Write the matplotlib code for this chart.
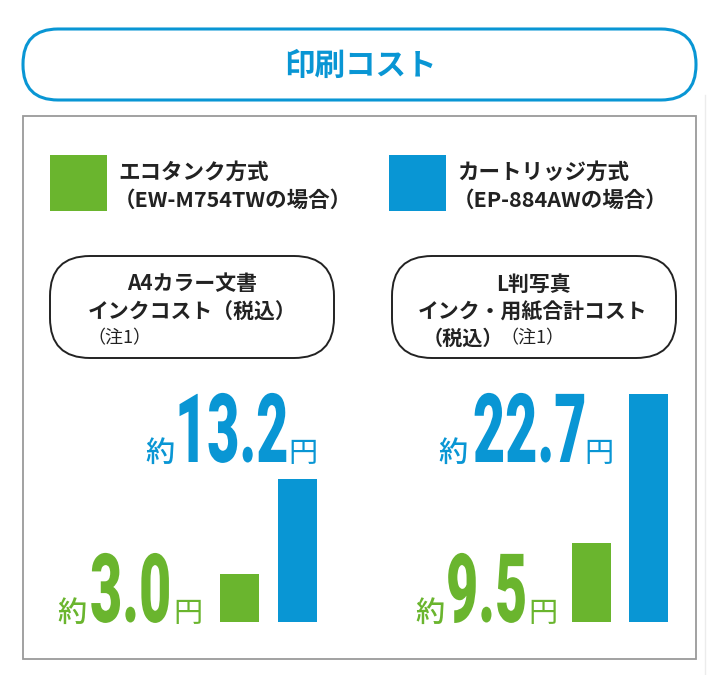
import matplotlib
matplotlib.use("Agg")
import matplotlib.pyplot as plt
import numpy as np
from matplotlib.patches import FancyBboxPatch, Rectangle
from matplotlib.patheffects import AbstractPathEffect
from matplotlib.transforms import Affine2D

plt.rcParams['font.family'] = ['Noto Sans CJK JP', 'DejaVu Sans']

GREEN = '#6ab52e'
BLUE = '#0996d4'
INK = '#222222'

# data
title = '印刷コスト'
series_names = ['エコタンク方式', 'カートリッジ方式']
series_models = ['（EW-M754TWの場合）', '（EP-884AWの場合）']
panel_heads = ['A4カラー文書', 'L判写真']
panel_subs = ['インクコスト（税込）', 'インク・用紙合計コスト']
panel_tax = ['', '（税込）']
panel_note = '（注1）'
ecotank_cost = [3.0, 9.5]
cartridge_cost = [13.2, 22.7]

W, H = 720, 675


class Squeeze(AbstractPathEffect):
    """Draw text condensed horizontally (the big numbers use a condensed face)."""
    def __init__(self, sx):
        super().__init__()
        self.sx = sx

    def draw_path(self, renderer, gc, tpath, affine, rgbFace=None):
        ox, oy = affine.transform_point((0, 0))
        sq = Affine2D().translate(-ox, -oy).scale(self.sx, 1).translate(ox, oy)
        renderer.draw_path(gc, tpath, affine + sq, rgbFace)


fig = plt.figure(figsize=(W / 100, H / 100), dpi=100)
bg = fig.add_axes([0, 0, 1, 1])
bg.set_xlim(0, W)
bg.set_ylim(H, 0)
bg.axis('off')

# title pill
bg.add_patch(FancyBboxPatch((23, 29), 673, 71, boxstyle='round,pad=0,rounding_size=35',
                            fc='white', ec=BLUE, lw=2.2))
bg.text(360, 66, title, color=BLUE, fontsize=22, fontweight='bold', ha='center', va='center')

# panel frame
bg.add_patch(Rectangle((23, 116), 673, 543, fc='none', ec='#9a9a9a', lw=1.3))
bg.plot([705, 705], [95, 675], color='#ececec', lw=1)

# legend
for x0, col, name, model in [(50, GREEN, series_names[0], series_models[0]),
                             (389, BLUE, series_names[1], series_models[1])]:
    bg.add_patch(Rectangle((x0, 155), 57, 56, fc=col, ec='none'))
    bg.text(x0 + 68, 172, name, color=INK, fontsize=15.5, fontweight='bold', va='center')
    bg.text(x0 + 64, 200, model, color=INK, fontsize=15.5, fontweight='bold', va='center')

# rounded caption boxes
for i, (x0, cx) in enumerate([(50, 192), (392, 533)]):
    bg.add_patch(FancyBboxPatch((x0, 256), 284, 102, boxstyle='round,pad=0,rounding_size=40',
                                fc='white', ec=INK, lw=1.4))
    bg.text(cx, 284, panel_heads[i], color=INK, fontsize=15, fontweight='bold', ha='center', va='center')
    bg.text(cx, 312, panel_subs[i], color=INK, fontsize=15, fontweight='bold', ha='center', va='center')
    if panel_tax[i]:
        bg.text(503, 338, panel_tax[i], color=INK, fontsize=14.5, fontweight='bold', ha='right', va='center')
        bg.text(500, 338, panel_note, color=INK, fontsize=13, ha='left', va='center')
    else:
        bg.text(119, 338, panel_note, color=INK, fontsize=13, ha='center', va='center')

# bars: one small axes per panel, baseline at y=622 px
panels = [
    # axes px left, bar centres, bar width px, baseline value, px per yen
    dict(left=200, c0=239.5, step=57.5, bw=39, base=-2.15, k=9.31),
    dict(left=550, c0=591.5, step=56.5, bw=39, base=2.5, k=11.29),
]
for i, p in enumerate(panels):
    aw, ah = 140, 242
    ax = fig.add_axes([p['left'] / W, (H - 622) / H, aw / W, ah / H])
    ax.patch.set_alpha(0)
    ax.axis('off')
    vals = np.array([ecotank_cost[i], cartridge_cost[i]])
    ax.bar([0, 1], vals - p['base'], bottom=p['base'], width=p['bw'] / p['step'],
           color=[GREEN, BLUE])
    ax.set_xlim((p['left'] - p['c0']) / p['step'], (p['left'] + aw - p['c0']) / p['step'])
    ax.set_ylim(p['base'], p['base'] + ah / p['k'])

# value labels  (約 / number / 円)
num_font = dict(family='Roboto', fontweight='black', fontsize=69, path_effects=[Squeeze(0.58)])
labels = [
    # x of 約, x of number, x of 円, baseline, value, colour
    (145, 175, 288, 462, cartridge_cost[0], BLUE),
    (57, 90, 173, 622, ecotank_cost[0], GREEN),
    (438, 473, 584, 462, cartridge_cost[1], BLUE),
    (415, 446, 528, 622, ecotank_cost[1], GREEN),
]
for xa, xn, xy, yb, v, col in labels:
    bg.text(xa, yb, '約', color=col, fontsize=21, fontweight='medium', va='baseline')
    bg.text(xn, yb, f'{v:.1f}', color=col, va='baseline', **num_font)
    bg.text(xy, yb, '円', color=col, fontsize=21, fontweight='normal', va='baseline')

fig.savefig('out.png', dpi=100, facecolor='white')
